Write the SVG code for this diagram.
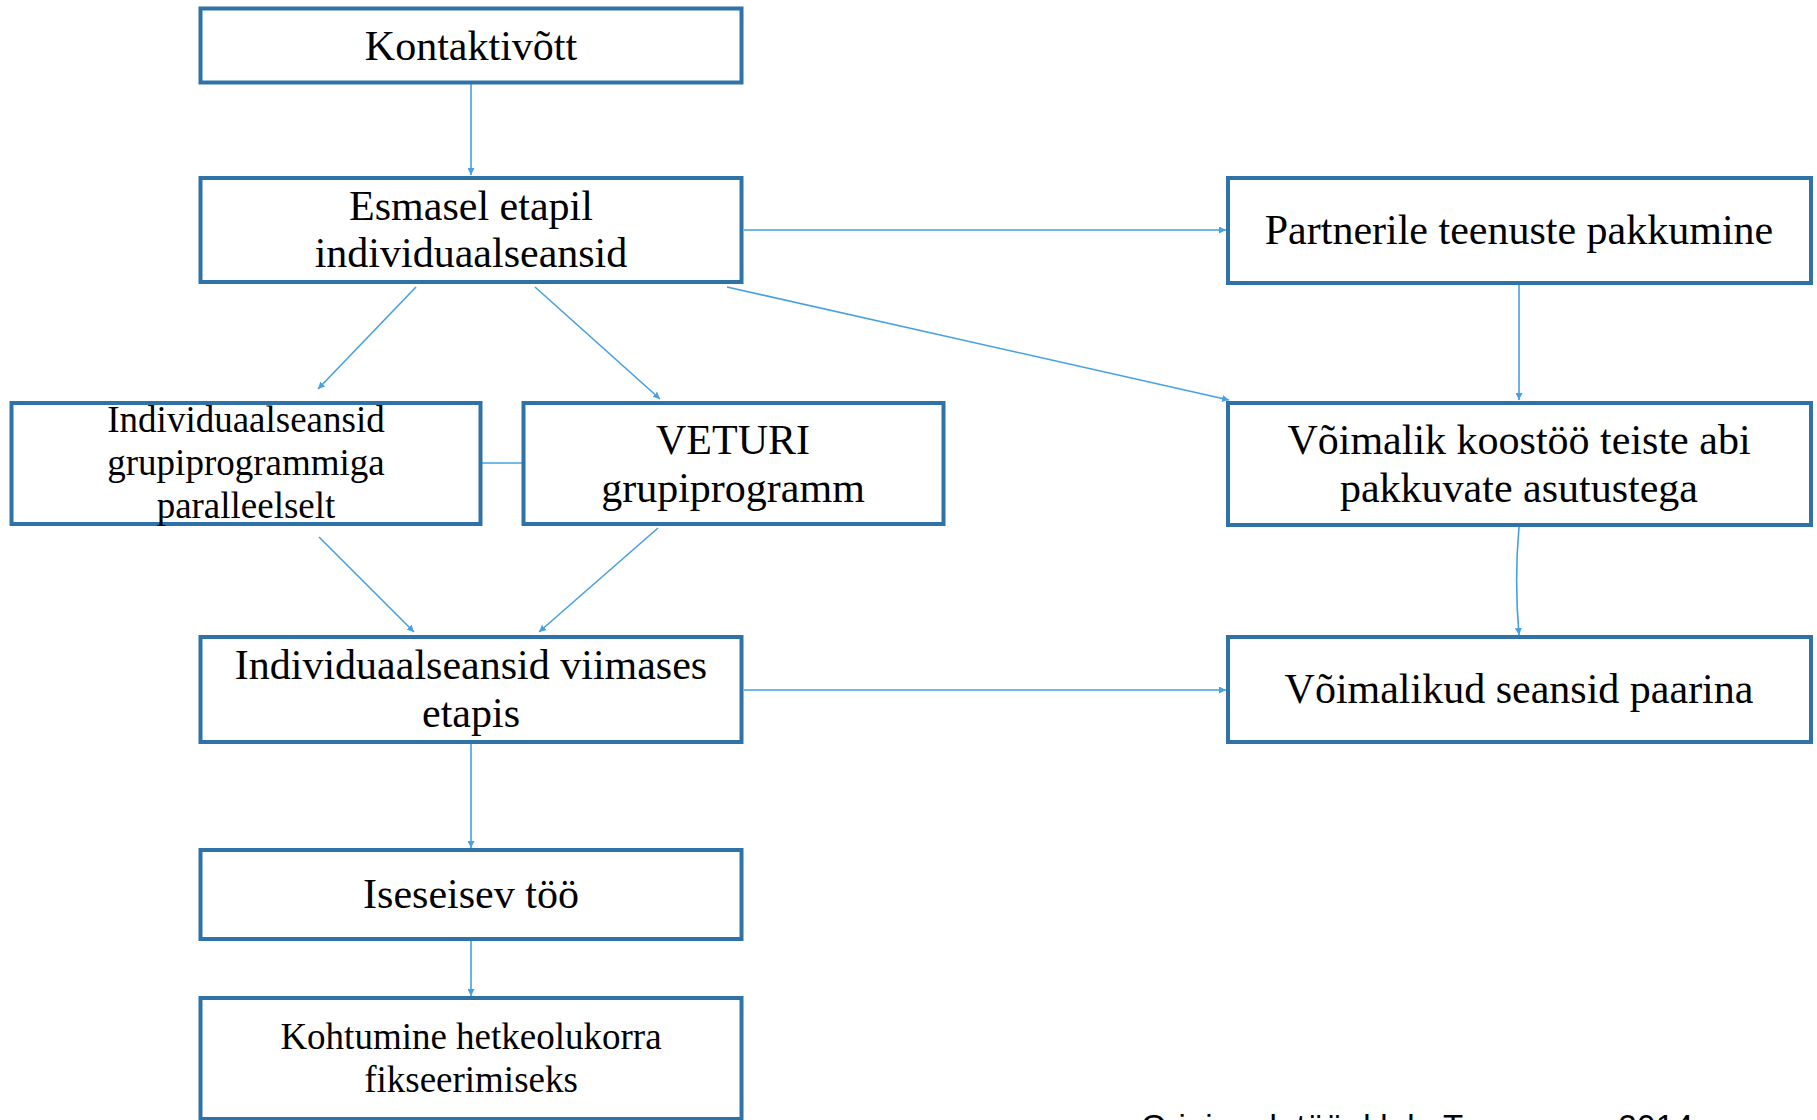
<svg xmlns="http://www.w3.org/2000/svg" width="1817" height="1120" viewBox="0 0 1817 1120">
<style>
.box{fill:#ffffff;stroke:#2f73a6;stroke-width:4}
.t{font-family:"Liberation Serif","Times New Roman",serif;font-size:42px;fill:#000;text-anchor:middle}
.s{font-size:37px}
.c{fill:none;stroke:#45a0e4;stroke-width:1.6}
.foot{font-family:"Liberation Sans",Arial,sans-serif;font-size:33px;fill:#000}
</style>
<defs>
<marker id="ah" viewBox="0 0 10 10" refX="10" refY="5" markerWidth="7" markerHeight="7" markerUnits="userSpaceOnUse" orient="auto">
<path d="M0,0 L10,5 L0,10 z" fill="#45a0e4"/>
</marker>
</defs>
<rect width="1817" height="1120" fill="#ffffff"/>
<g id="connectors">
<line class="c" x1="471" y1="84" x2="471" y2="175" marker-end="url(#ah)"/>
<line class="c" x1="744" y1="230" x2="1226" y2="230" marker-end="url(#ah)"/>
<line class="c" x1="416" y1="287" x2="318" y2="389" marker-end="url(#ah)"/>
<line class="c" x1="535" y1="287" x2="660" y2="399" marker-end="url(#ah)"/>
<line class="c" x1="727" y1="287" x2="1229" y2="400" marker-end="url(#ah)"/>
<line class="c" x1="1519" y1="285" x2="1519" y2="400" marker-end="url(#ah)"/>
<path class="c" d="M1519,527 C1516,560 1516,600 1519,635" marker-end="url(#ah)"/>
<line class="c" x1="319" y1="537" x2="414" y2="632" marker-end="url(#ah)"/>
<line class="c" x1="658" y1="528" x2="539" y2="632" marker-end="url(#ah)"/>
<line class="c" x1="744" y1="690" x2="1226" y2="690" marker-end="url(#ah)"/>
<line class="c" x1="471" y1="744" x2="471" y2="848" marker-end="url(#ah)"/>
<line class="c" x1="471" y1="941" x2="471" y2="996" marker-end="url(#ah)"/>
<line class="c" x1="482" y1="463" x2="522" y2="463"/>
</g>
<g id="n1"><rect class="box" x="200.5" y="8.5" width="541" height="74"/><text class="t" x="471" y="60">Kontaktivõtt</text></g>
<g id="n2"><rect class="box" x="200.5" y="178" width="541" height="104"/><text class="t" x="471" y="220">Esmasel etapil</text><text class="t" x="471" y="267">individuaalseansid</text></g>
<g id="n3"><rect class="box" x="1228" y="178" width="583" height="105"/><text class="t" x="1519" y="244">Partnerile teenuste pakkumine</text></g>
<g id="n4"><rect class="box" x="11.5" y="403" width="469" height="121"/><text class="t s" x="246" y="432">Individuaalseansid</text><text class="t s" x="246" y="475">grupiprogrammiga</text><text class="t s" x="246" y="518">paralleelselt</text></g>
<g id="n5"><rect class="box" x="523.5" y="403" width="420" height="121"/><text class="t" x="733" y="454">VETURI</text><text class="t" x="733" y="502">grupiprogramm</text></g>
<g id="n6"><rect class="box" x="1228" y="403" width="583" height="122"/><text class="t" x="1519" y="454">Võimalik koostöö teiste abi</text><text class="t" x="1519" y="502">pakkuvate asutustega</text></g>
<g id="n7"><rect class="box" x="200.5" y="637" width="541" height="105"/><text class="t" x="471" y="679">Individuaalseansid viimases</text><text class="t" x="471" y="727">etapis</text></g>
<g id="n8"><rect class="box" x="1228" y="637" width="583" height="105"/><text class="t" x="1519" y="703">Võimalikud seansid paarina</text></g>
<g id="n9"><rect class="box" x="200.5" y="850" width="541" height="89"/><text class="t" x="471" y="908">Iseseisev töö</text></g>
<g id="n10"><rect class="box" x="200.5" y="998" width="541" height="121"/><text class="t s" x="471" y="1049">Kohtumine hetkeolukorra</text><text class="t s" x="471" y="1092">fikseerimiseks</text></g>
<text class="foot" x="1141" y="1138" textLength="552">Originaal: töö, kl. k. Tammsaar, 2014</text>
</svg>
